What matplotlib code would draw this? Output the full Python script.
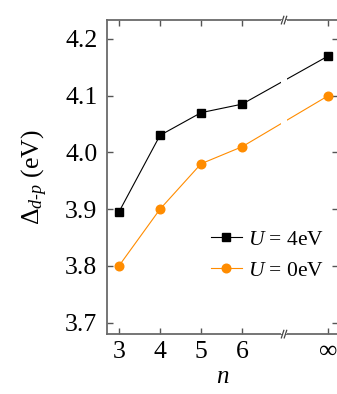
import matplotlib
matplotlib.use("Agg")
import matplotlib.pyplot as plt
from matplotlib.patches import Rectangle

# chain length n (the last point is the infinite chain, placed after an axis break)
n_labels = ["3", "4", "5", "6", "∞"]
n_pos = [3, 4, 5, 6, 8.1]
break_pos = 7.02

delta_u4 = [3.895, 4.03, 4.07, 4.085, 4.17]
delta_u0 = [3.80, 3.90, 3.98, 4.01, 4.10]

plt.rcParams["font.family"] = ["Liberation Serif", "DejaVu Serif"]
plt.rcParams["mathtext.fontset"] = "custom"
plt.rcParams["mathtext.rm"] = "Liberation Serif"
plt.rcParams["mathtext.it"] = "Liberation Serif:italic"

fig = plt.figure(figsize=(3.37, 3.94), dpi=100)
ax = fig.add_axes([0.3175, 0.152, 0.685, 0.797])

orange = "#ff8c00"
ax.plot(n_pos, delta_u4, color="black", lw=0.8, marker="s", ms=5.8,
        label=r"$U$ = 4eV", zorder=3)
ax.plot(n_pos, delta_u0, color=orange, lw=0.8, marker="o", ms=6.2,
        label=r"$U$ = 0eV", zorder=3)

# gap in the lines at the axis break
ax.add_patch(Rectangle((break_pos - 0.075, 0), 0.15, 1, transform=ax.get_xaxis_transform(),
                       facecolor="white", edgecolor="none", zorder=3.5))

ax.set_xlim(2.71, 8.33)
ax.set_ylim(3.68, 4.233)
ax.set_xticks(n_pos)
ax.set_xticklabels(n_labels)
ax.set_yticks([3.7, 3.8, 3.9, 4.0, 4.1, 4.2])
ax.set_yticklabels(["3.7", "3.8", "3.9", "4.0", "4.1", "4.2"])

ax.tick_params(direction="in", top=True, right=True, length=4, width=1.0,
               color="#555555", labelsize=18.5)
ax.tick_params(axis="y", pad=7)
ax.tick_params(axis="x", pad=5)
for sp in ax.spines.values():
    sp.set_color("#6a6a6a")
    sp.set_linewidth(1.3)

ax.set_xlabel(r"$n$", fontsize=18, labelpad=2)
ax.set_ylabel(r"$\Delta_{d\text{-}p}$ (eV)", fontsize=18.5, labelpad=11)

# break markers on top and bottom spines
trans = ax.get_xaxis_transform()
for yb in (0, 1):
    ax.add_patch(Rectangle((break_pos - 0.05, yb - 0.006), 0.1, 0.012, transform=trans,
                           facecolor="white", edgecolor="none", zorder=4, clip_on=False))
    for dx in (-0.035, 0.035):
        ax.plot([break_pos + dx - 0.03, break_pos + dx + 0.03], [yb - 0.012, yb + 0.012],
                transform=trans, color="#444444", lw=0.9, clip_on=False, zorder=5)

ax.legend(loc="upper left", bbox_to_anchor=(0.415, 0.36), frameon=False, fontsize=15.5,
          handlelength=1.4, handletextpad=0.3, labelspacing=0.5, borderaxespad=0)

fig.savefig("out.png", dpi=100)
